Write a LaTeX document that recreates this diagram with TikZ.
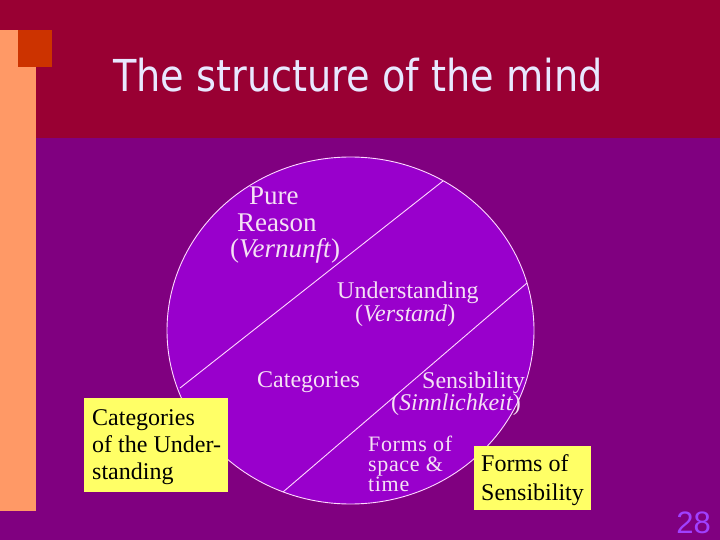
\documentclass[tikz,border=0pt]{standalone}
\usepackage{fontspec}
\usetikzlibrary{shapes.geometric}
\setmainfont{Liberation Serif}
\newfontfamily\titlefont{DejaVu Sans}
\newfontfamily\numfont{Liberation Sans}
\newfontfamily\spacedserif[LetterSpace=3]{Liberation Serif}
\definecolor{bgpurple}{HTML}{800080}
\definecolor{topband}{HTML}{990033}
\definecolor{strip}{HTML}{FF9966}
\definecolor{square}{HTML}{CC3300}
\definecolor{mindfill}{HTML}{9900CC}
\definecolor{mindline}{HTML}{FFD9FF}
\definecolor{mindtext}{HTML}{F5E1F5}
\definecolor{titletext}{HTML}{E8E8FF}
\definecolor{notebox}{HTML}{FFFF66}
\definecolor{pagenum}{HTML}{A040FF}
\tikzset{
  inmind/.style={text=mindtext, inner sep=0pt, anchor=base west, font=\fontsize{24}{24}\selectfont},
  inmindbig/.style={inmind, font=\fontsize{27}{27}\selectfont},
  inmindsmall/.style={inmind, font=\spacedserif\fontsize{22}{22}\selectfont},
  notetext/.style={text=black, inner sep=0pt, anchor=base west, font=\fontsize{24}{24}\selectfont},
  noteboxstyle/.style={fill=notebox, draw=none},
  divider/.style={draw=mindline, line width=0.9pt}
}
\begin{document}
\begin{tikzpicture}[x=1pt,y=-1pt]
\useasboundingbox (0,0) rectangle (720,540);
% background
\fill[bgpurple] (0,0) rectangle (720,540);
\fill[topband] (0,0) rectangle (720,138);
\fill[strip] (0,30) rectangle (36,511);
\fill[square] (18,30) rectangle (52,67);
% title
\node[text=titletext, inner sep=0pt, anchor=base west, font=\titlefont\fontsize{44}{44}\selectfont] (title) at (113,92) {\scalebox{0.87}[1]{The structure of the mind}};
% mind ellipse
\node[ellipse, draw=mindline, fill=mindfill, line width=0.9pt, minimum width=367pt, minimum height=347pt, inner sep=0pt] (mind) at (350.5,330.5) {};
\coordinate (a1) at (443,181);
\coordinate (a2) at (180,388);
\coordinate (b1) at (527,283);
\coordinate (b2) at (283,492);
\draw[divider] (a1) -- (a2);
\draw[divider] (b1) -- (b2);
% texts in the mind
\node[inmindbig] (pure) at (249,205) {Pure};
\node[inmindbig] (reason) at (237,232) {Reason};
\node[inmindbig] (vernunft) at (230,257) {(\textit{Vernunft})};
\node[inmind] (understanding) at (337,298) {Understanding};
\node[inmind] (verstand) at (355,321) {(\textit{Verstand})};
\node[inmind] (categories) at (257,387) {Categories};
\node[inmind] (sensibility) at (422,388) {Sensibility};
\node[inmind] (sinnlichkeit) at (391,410) {(\textit{Sinnlichkeit})};
\node[inmindsmall] (forms1) at (368,451) {Forms of};
\node[inmindsmall] (forms2) at (368,471) {space \&};
\node[inmindsmall] (forms3) at (368,491) {time};
% note boxes
\fill[noteboxstyle] (84,398) rectangle (228,492);
\node[notetext] (cat1) at (92,425) {Categories};
\node[notetext] (cat2) at (92,452) {of the Under-};
\node[notetext] (cat3) at (92,479) {standing};
\fill[noteboxstyle] (474,446) rectangle (591,510);
\node[notetext] (fs1) at (481,471) {Forms of};
\node[notetext] (fs2) at (481,500) {Sensibility};
% page number
\node[text=pagenum, inner sep=0pt, anchor=base east, font=\numfont\fontsize{31}{31}\selectfont] (page) at (711,533) {28};
\end{tikzpicture}
\end{document}
